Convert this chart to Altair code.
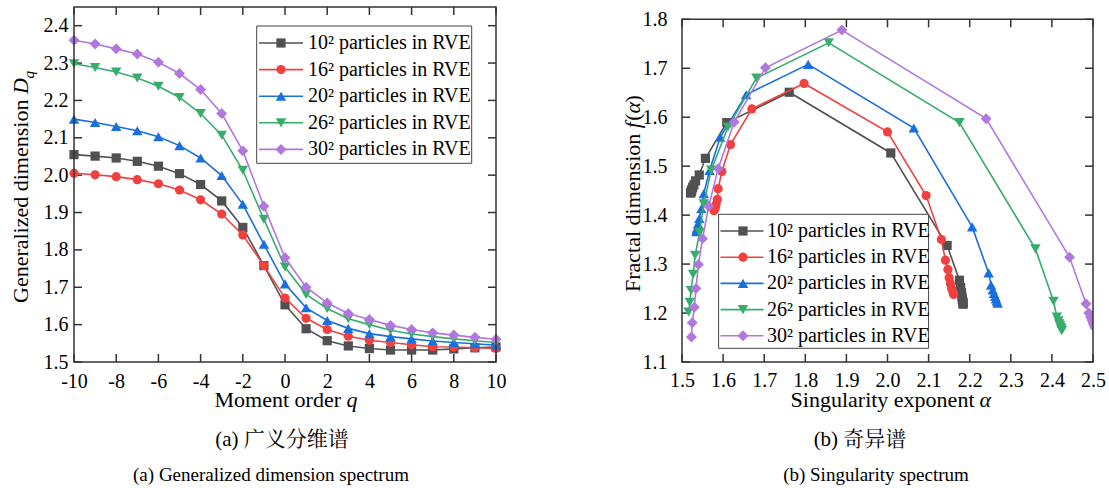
import altair as alt
import pandas as pd

# ---------------- data ----------------
q = list(range(-10, 11))
series_names = ["10² particles in RVE", "16² particles in RVE", "20² particles in RVE",
                "26² particles in RVE", "30² particles in RVE"]
colors = ["#515151", "#F14040", "#1A6FDF", "#37AD6B", "#B177DE"]
shapes = ["square", "circle", "triangle-up", "triangle-down", "diamond"]
sizes = [85, 85, 110, 110, 120]

# (a) generalized dimension D_q, q = -10..10
D_10 = [2.055, 2.051, 2.046, 2.037, 2.024, 2.004, 1.975, 1.931, 1.860, 1.758, 1.653,
        1.589, 1.557, 1.543, 1.536, 1.532, 1.532, 1.532, 1.535, 1.538, 1.540]
D_16 = [2.005, 2.001, 1.996, 1.988, 1.977, 1.960, 1.934, 1.896, 1.840, 1.758, 1.671,
        1.617, 1.587, 1.569, 1.558, 1.552, 1.546, 1.541, 1.540, 1.538, 1.536]
D_20 = [2.150, 2.141, 2.130, 2.119, 2.103, 2.079, 2.046, 1.999, 1.922, 1.815, 1.709,
        1.645, 1.611, 1.590, 1.576, 1.568, 1.562, 1.556, 1.552, 1.549, 1.545]
D_26 = [2.298, 2.288, 2.276, 2.260, 2.238, 2.208, 2.165, 2.107, 2.013, 1.882, 1.754,
        1.681, 1.643, 1.616, 1.600, 1.585, 1.575, 1.568, 1.562, 1.557, 1.552]
D_30 = [2.361, 2.351, 2.338, 2.324, 2.302, 2.272, 2.229, 2.165, 2.065, 1.917, 1.779,
        1.700, 1.658, 1.630, 1.614, 1.598, 1.587, 1.578, 1.572, 1.566, 1.561]

# (b) singularity spectrum alpha / f(alpha), q = -10..10
alpha_10 = [2.184, 2.184, 2.183, 2.182, 2.181, 2.180, 2.178, 2.175, 2.145, 2.008, 1.761,
            1.609, 1.557, 1.542, 1.533, 1.529, 1.526, 1.524, 1.523, 1.522, 1.521]
f_10 = [1.218, 1.221, 1.224, 1.228, 1.234, 1.242, 1.252, 1.267, 1.338, 1.527, 1.651,
        1.589, 1.516, 1.482, 1.470, 1.462, 1.457, 1.452, 1.449, 1.447, 1.445]
alpha_16 = [2.161, 2.159, 2.156, 2.153, 2.150, 2.147, 2.141, 2.131, 2.094, 2.000, 1.797,
            1.670, 1.618, 1.597, 1.588, 1.586, 1.583, 1.581, 1.580, 1.579, 1.578]
f_16 = [1.238, 1.243, 1.250, 1.260, 1.272, 1.289, 1.308, 1.350, 1.440, 1.570, 1.669,
        1.617, 1.544, 1.489, 1.454, 1.432, 1.422, 1.416, 1.413, 1.411, 1.409]
alpha_20 = [2.268, 2.266, 2.264, 2.262, 2.259, 2.256, 2.252, 2.246, 2.206, 2.064, 1.807,
            1.656, 1.593, 1.567, 1.553, 1.547, 1.542, 1.539, 1.537, 1.536, 1.535]
f_20 = [1.220, 1.224, 1.229, 1.234, 1.240, 1.247, 1.257, 1.282, 1.376, 1.578, 1.708,
        1.646, 1.559, 1.491, 1.444, 1.413, 1.393, 1.382, 1.374, 1.370, 1.366]
alpha_26 = [2.424, 2.423, 2.422, 2.420, 2.418, 2.416, 2.412, 2.404, 2.360, 2.175, 1.857,
            1.681, 1.612, 1.571, 1.553, 1.543, 1.532, 1.527, 1.522, 1.519, 1.516]
f_26 = [1.164, 1.167, 1.170, 1.174, 1.178, 1.184, 1.192, 1.224, 1.331, 1.589, 1.752,
        1.680, 1.580, 1.492, 1.423, 1.365, 1.318, 1.279, 1.246, 1.222, 1.202]
alpha_30 = [2.506, 2.504, 2.502, 2.500, 2.497, 2.494, 2.490, 2.483, 2.443, 2.240, 1.889,
            1.703, 1.627, 1.588, 1.565, 1.550, 1.540, 1.534, 1.530, 1.525, 1.523]
f_30 = [1.169, 1.172, 1.176, 1.180, 1.186, 1.192, 1.200, 1.219, 1.314, 1.597, 1.778,
        1.701, 1.590, 1.495, 1.418, 1.352, 1.299, 1.250, 1.212, 1.180, 1.151]

left_x_ticks = [-10, -8, -6, -4, -2, 0, 2, 4, 6, 8, 10]
left_y_ticks = [1.5, 1.6, 1.7, 1.8, 1.9, 2.0, 2.1, 2.2, 2.3, 2.4]
right_x_ticks = [1.5, 1.6, 1.7, 1.8, 1.9, 2.0, 2.1, 2.2, 2.3, 2.4, 2.5]
right_y_ticks = [1.1, 1.2, 1.3, 1.4, 1.5, 1.6, 1.7, 1.8]

caption_a_cn = "(a)  广义分维谱"
caption_a_en = "(a)  Generalized dimension spectrum"
caption_b_cn = "(b)  奇异谱"
caption_b_en = "(b)  Singularity spectrum"

# ---------------- style ----------------
FONT = "Liberation Serif"
CAPFONT = "Liberation Serif, Noto Serif CJK SC, Noto Sans CJK SC"
FRAME = "#333333"
W1, H = 422, 355
W2 = 411
TOP_B = 12.3          # top of panel (b) frame inside the shared plot height
TICK = 8
one = pd.DataFrame({"a": [0]})


def text(t, x, y, size=22, italic=False, align="left", angle=0, baseline="alphabetic", font=FONT):
    kw = dict(text=t, font=font, fontSize=size, align=align, baseline=baseline, color="black")
    if italic:
        kw["fontStyle"] = "italic"
    if angle:
        kw["angle"] = angle
    return alt.Chart(one).mark_text(**kw).encode(x=alt.value(x), y=alt.value(y))


def frame_ticks(xs, ys, xsc, ysc, xaxis, yaxis, W, top):
    dx = pd.DataFrame({"v": xs})
    dy = pd.DataFrame({"v": ys})
    rule = dict(color=FRAME, strokeWidth=1.5)
    X = alt.X("v:Q", scale=xsc, axis=xaxis)
    Y = alt.Y("v:Q", scale=ysc, axis=yaxis)
    return [
        alt.Chart(dx).mark_rule(**rule).encode(x=X, y=alt.value(H), y2=alt.value(H - TICK)),
        alt.Chart(dx).mark_rule(**rule).encode(x=X, y=alt.value(top), y2=alt.value(top + TICK)),
        alt.Chart(dy).mark_rule(**rule).encode(y=Y, x=alt.value(0), x2=alt.value(TICK)),
        alt.Chart(dy).mark_rule(**rule).encode(y=Y, x=alt.value(W), x2=alt.value(W - TICK)),
    ]


def frame(W, top):
    return alt.Chart(one).mark_rect(fill="white", fillOpacity=0, stroke=FRAME, strokeWidth=1.5).encode(
        x=alt.value(0), x2=alt.value(W), y=alt.value(top), y2=alt.value(H))


def series_layers(frames, xf, yf, xsc, ysc, xaxis, yaxis, clip=False, order=False):
    out = []
    for i, df in enumerate(frames):
        X = alt.X(f"{xf}:Q", scale=xsc, axis=xaxis)
        Y = alt.Y(f"{yf}:Q", scale=ysc, axis=yaxis)
        enc = dict(x=X, y=Y)
        if order:
            enc["order"] = alt.Order("q:Q")
        out.append(alt.Chart(df).mark_line(color=colors[i], strokeWidth=1.6, clip=clip).encode(**enc))
        out.append(alt.Chart(df).mark_point(filled=True, shape=shapes[i], size=sizes[i],
                                             color=colors[i], opacity=1, clip=clip).encode(x=X, y=Y))
    return out


def legend(bx1, bx2, by1, by2, y0, dy, lx1, lx2, mx, tx):
    out = [alt.Chart(one).mark_rect(fill="white", stroke="#444444", strokeWidth=1).encode(
        x=alt.value(bx1), x2=alt.value(bx2), y=alt.value(by1), y2=alt.value(by2))]
    for i, name in enumerate(series_names):
        yy = y0 + dy * i
        out.append(alt.Chart(one).mark_rule(color=colors[i], strokeWidth=1.6).encode(
            x=alt.value(lx1), x2=alt.value(lx2), y=alt.value(yy)))
        out.append(alt.Chart(one).mark_point(filled=True, shape=shapes[i], size=sizes[i],
                                              color=colors[i], opacity=1).encode(
            x=alt.value(mx), y=alt.value(yy)))
        out.append(text(name, tx, yy, size=20, baseline="middle"))
    return out


axis_common = dict(title=None, ticks=False, tickSize=0, domain=False, grid=False,
                   labelFont=FONT, labelFontSize=20, labelColor="black",
                   labelFlush=False, labelOverlap=False)

# ---------------- (a) ----------------
xsc_a = alt.Scale(domain=[-10, 10], nice=False, zero=False)
ysc_a = alt.Scale(domain=[1.5, 2.45], nice=False, zero=False)
xaxis_a = alt.Axis(values=left_x_ticks, labelExpr="'' + datum.value", labelPadding=9.2, **axis_common)
yaxis_a = alt.Axis(values=left_y_ticks, format=".1f", labelPadding=6, **axis_common)

frames_a = [pd.DataFrame({"q": q, "D": d}) for d in [D_10, D_16, D_20, D_26, D_30]]

layers_a = [alt.Chart(one).mark_rule(opacity=0, strokeWidth=1).encode(
    x=alt.value(-73.5), x2=alt.value(W1 + 30), y=alt.value(-6.5))]
layers_a += frame_ticks(left_x_ticks, left_y_ticks, xsc_a, ysc_a, xaxis_a, yaxis_a, W1, 0)
layers_a += series_layers(frames_a, "q", "D", xsc_a, ysc_a, xaxis_a, yaxis_a)
layers_a += [frame(W1, 0)]
layers_a += legend(182.7, 397.7, 19, 156.3, 36, 26.6, 185, 229, 207, 234)
layers_a += [
    text("Generalized dimension", -45.7, 296, angle=270),
    text("D", -45.7, 87, italic=True, angle=270),
    text("q", -40.5, 71.5, size=15, italic=True, angle=270),
    text("Moment order", 267, 400, align="right"),
    text("q", 272.5, 400, italic=True),
    text(caption_a_cn, 208, 433, size=21, align="center", baseline="middle", font=CAPFONT),
    text(caption_a_en, 197, 468, size=19, align="center", baseline="middle", font=CAPFONT),
]
chart_a = alt.layer(*layers_a).properties(width=W1, height=H)

# ---------------- (b) ----------------
T = TOP_B
xsc_b = alt.Scale(domain=[1.5, 2.5], nice=False, zero=False)
ysc_b = alt.Scale(domain=[1.1, 1.8], nice=False, zero=False, range=[H, T])
xaxis_b = alt.Axis(values=right_x_ticks, format=".1f", labelPadding=8.5, **axis_common)
yaxis_b = alt.Axis(values=right_y_ticks, format=".1f", labelPadding=15, **axis_common)

frames_b = [pd.DataFrame({"q": q, "alpha": a, "f": f}) for a, f in
            [(alpha_10, f_10), (alpha_16, f_16), (alpha_20, f_20), (alpha_26, f_26), (alpha_30, f_30)]]

layers_b = [alt.Chart(one).mark_rule(opacity=0, strokeWidth=1).encode(
    x=alt.value(-81.2), x2=alt.value(W2), y=alt.value(150))]
layers_b += frame_ticks(right_x_ticks, right_y_ticks, xsc_b, ysc_b, xaxis_b, yaxis_b, W2, T)
layers_b += series_layers(frames_b, "alpha", "f", xsc_b, ysc_b, xaxis_b, yaxis_b, clip=True, order=True)
layers_b += [frame(W2, T)]
layers_b += legend(36.6, 246.6, 195 + T, 329 + T, 211.7 + T, 26.2, 38.5, 81.5, 61, 85)
layers_b += [
    text("Fractal dimension", -42.2, 272.7 + T, angle=270),
    text("f", -42.2, 108.9 + T, italic=True, angle=270),
    text("(", -42.2, 101.4 + T, angle=270),
    text("α", -42.2, 94.1 + T, italic=True, angle=270),
    text(")", -42.2, 83.1 + T, angle=270),
    text("Singularity exponent", 292.5, 387.4 + T, align="right"),
    text("α", 297.6, 387.4 + T, italic=True),
    text(caption_b_cn, 178, 433, size=21, align="center", baseline="middle", font=CAPFONT),
    text(caption_b_en, 194, 468, size=19, align="center", baseline="middle", font=CAPFONT),
]
chart_b = alt.layer(*layers_b).properties(width=W2, height=H)

chart = alt.hconcat(chart_a, chart_b, spacing=74).properties(
    padding=0, background="white"
).configure_view(stroke=None)

chart.save("out.html", embed_options={"renderer": "svg", "actions": False})
